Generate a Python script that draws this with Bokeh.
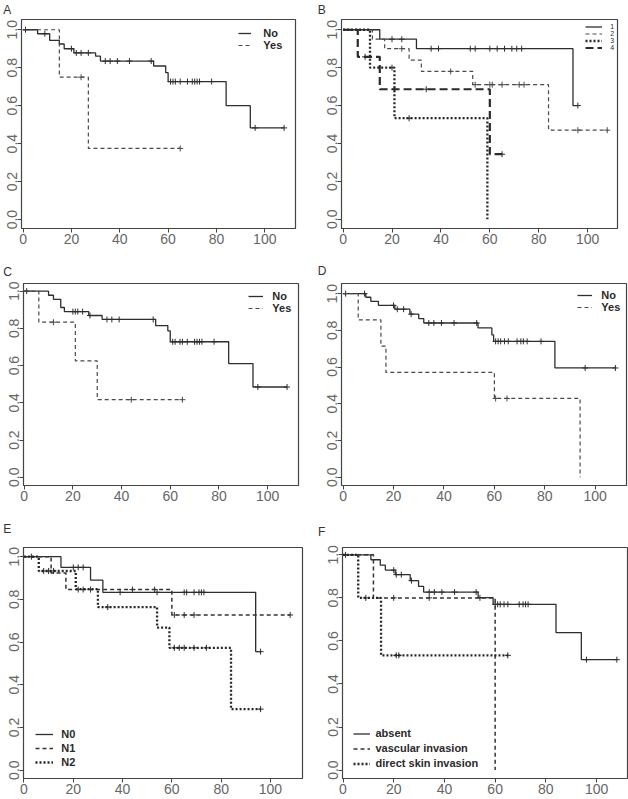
from bokeh.plotting import figure
from bokeh.layouts import column, row
from bokeh.models import (Range1d, FixedTicker, PrintfTickFormatter, Legend,
                          LegendItem, Title)
from bokeh.embed import file_html
from bokeh.resources import INLINE

# ---------------- data ----------------
x_ticks = [0, 20, 40, 60, 80, 100]
y_ticks = [0.0, 0.2, 0.4, 0.6, 0.8, 1.0]

# Panel A
a_labels = ["No", "Yes"]
a_no_times = [6, 11, 15, 17, 21, 30, 32, 54, 59, 60, 84, 94]
a_no_surv = [0.979, 0.944, 0.925, 0.900, 0.878, 0.861, 0.835, 0.809, 0.774, 0.727, 0.600, 0.483]
a_no_cens = [1, 9, 20, 22, 24, 27, 34, 36, 39, 44, 53, 61, 62, 63, 65, 68, 70, 71, 72, 73, 78, 96, 108]
a_yes_times = [15, 27]
a_yes_surv = [0.75, 0.375]
a_yes_cens = [24, 65]

# Panel B
b_labels = ["1", "2", "3", "4"]
b_g1_times = [15, 30, 94]
b_g1_surv = [0.95, 0.90, 0.60]
b_g1_cens = [20, 24, 36, 39, 52, 54, 60, 63, 66, 69, 71, 73, 96]
b_g2_times = [12, 17, 27, 32, 53, 84]
b_g2_surv = [0.95, 0.90, 0.84, 0.78, 0.71, 0.47]
b_g2_cens = [24, 44, 54, 60, 61, 65, 72, 74, 96, 108]
b_g3_times = [11, 21, 59]
b_g3_surv = [0.80, 0.533, 0.0]
b_g3_cens = [20, 27]
b_g4_times = [6, 15, 60]
b_g4_surv = [0.857, 0.686, 0.343]
b_g4_cens = [9, 21, 34, 65]

# Panel C
c_labels = ["No", "Yes"]
c_no_times = [10, 12, 15, 16.5, 26.5, 32, 54, 59, 60, 84, 94]
c_no_surv = [0.978, 0.956, 0.912, 0.890, 0.869, 0.848, 0.815, 0.787, 0.728, 0.611, 0.485]
c_no_cens = [1, 20, 21, 22, 24, 27, 34, 36, 39, 53, 61, 62, 64, 65, 67, 70, 71, 72, 73, 78, 96, 108]
c_yes_times = [6, 21, 30]
c_yes_surv = [0.833, 0.625, 0.417]
c_yes_cens = [12, 44, 65]

# Panel D
d_labels = ["No", "Yes"]
d_no_times = [9, 11, 14, 20.5, 26.5, 30, 32, 53.5, 59, 59.7, 84]
d_no_surv = [0.980, 0.958, 0.936, 0.915, 0.888, 0.864, 0.840, 0.813, 0.775, 0.740, 0.595]
d_no_cens = [1, 8.5, 20, 21.5, 24, 27, 34, 36, 39, 44, 53, 60.5, 61.5, 62.5, 64, 65.5,
             69, 70.5, 71.5, 73, 78.5, 96, 108]
d_yes_times = [6, 15, 17, 60, 94]
d_yes_surv = [0.857, 0.714, 0.571, 0.429, 0.0]
d_yes_cens = [60.5, 65]

# Panel E
e_labels = ["N0", "N1", "N2"]
e_n0_times = [15, 27, 32, 94]
e_n0_surv = [0.95, 0.89, 0.833, 0.555]
e_n0_cens = [20, 22, 24, 39, 54, 65, 66, 69, 71, 72, 73, 96]
e_n1_times = [11, 17, 60]
e_n1_surv = [0.923, 0.846, 0.727]
e_n1_cens = [22, 24, 27, 44, 53, 61, 65, 69, 108]
e_n2_times = [6, 21, 30, 54, 59, 84]
e_n2_surv = [0.933, 0.848, 0.764, 0.668, 0.573, 0.286]
e_n2_cens = [3, 8, 10, 12, 34, 61, 63, 65, 69, 74, 96]

# Panel F
f_labels = ["absent", "vascular invasion", "direct skin invasion"]
f_ab_times = [11, 14.7, 16.7, 20.6, 26.5, 29.8, 31.8, 53.3, 59.2, 84, 94]
f_ab_surv = [0.977, 0.952, 0.929, 0.908, 0.880, 0.853, 0.827, 0.801, 0.770, 0.639, 0.513]
f_ab_cens = [1, 20, 21, 23, 27, 34, 36, 39, 44, 52.5, 60, 61, 62, 63.5, 65,
             69.5, 71, 72, 73, 96, 108]
f_vi_times = [12, 60]
f_vi_surv = [0.80, 0.0]
f_vi_cens = [20, 34, 54]
f_ds_times = [6, 15]
f_ds_surv = [0.80, 0.533]
f_ds_cens = [9, 21, 22, 65]

# ---------------- styles / layout ----------------
FONT = "Liberation Sans"
LETTER_PX = 12
LETTER_H = 13.4  # approximate text box height of a 12px letter

SOLID = dict(line_color="#2e2e2e", line_width=1.3, line_dash="solid")
DASH = dict(line_color="#4a4a4a", line_width=1.2, line_dash="4 3")
DASH2 = dict(line_color="#333333", line_width=1.5, line_dash="4 3")
DOT = dict(line_color="#262626", line_width=2.3, line_dash="2 2")
LONG = dict(line_color="#2a2a2a", line_width=2.2, line_dash="8 4")


def surv_at(times, surv, t):
    s = 1.0
    for ti, si in zip(times, surv):
        if ti <= t:
            s = si
    return s


def make_panel(letter, box, cols, rows_, xr, yr, letter_pos, groups, legend):
    x0, x1, y0, y1 = box
    c0, c1 = cols
    r0, r1 = rows_
    w = c1 - c0
    h = r1 - r0
    mbl = round(x0 - c0)
    mbr = round(c1 - x1)
    mbt = round(y0 - r0)
    mbb = round(r1 - y1)
    p = figure(width=w, height=h, x_range=Range1d(*xr), y_range=Range1d(*yr),
               output_backend="svg", toolbar_location=None, title=None,
               min_border_left=mbl, min_border_right=mbr,
               min_border_top=mbt, min_border_bottom=mbb)
    p.xgrid.visible = False
    p.ygrid.visible = False
    p.outline_line_color = "#444444"
    p.outline_line_width = 1.2
    p.outline_line_alpha = 1.0
    p.background_fill_color = "white"
    p.border_fill_color = "white"
    p.xaxis.ticker = FixedTicker(ticks=x_ticks)
    p.yaxis.ticker = FixedTicker(ticks=y_ticks)
    p.yaxis.formatter = PrintfTickFormatter(format="%.1f")
    p.yaxis.major_label_orientation = "vertical"
    for ax in (p.xaxis[0], p.yaxis[0]):
        ax.major_tick_out = 4
        ax.major_tick_in = 0
        ax.minor_tick_out = 0
        ax.minor_tick_in = 0
        ax.axis_line_color = "#444444"
        ax.major_tick_line_color = "#444444"
        ax.major_label_text_font = FONT
        ax.major_label_text_font_size = "14px"
        ax.major_label_text_color = "#666666"
    p.xaxis[0].major_label_standoff = 1
    p.yaxis[0].major_label_standoff = 0

    renderers = []
    for times, surv, cens, sty in groups:
        end = max(list(times) + list(cens))
        xs = [0] + list(times)
        ys = [1.0] + list(surv)
        if end > xs[-1]:
            xs.append(end)
            ys.append(ys[-1])
        r = p.step(x=xs, y=ys, mode="after", **sty)
        renderers.append(r)
        cy = [surv_at(times, surv, c) for c in cens]
        p.scatter(x=cens, y=cy, marker="cross", size=6,
                  line_color=sty["line_color"], line_width=1.0)

    # panel letter as a left-aligned title placed above the frame
    lx, ly = letter_pos
    standoff = max(0, round(2 * (y0 - ly) - LETTER_H))
    p.add_layout(Title(text=letter, align="left", offset=lx - x0,
                       vertical_align="middle", standoff=standoff,
                       text_font=FONT, text_font_size=f"{LETTER_PX}px",
                       text_font_style="normal", text_color="#333333"), "above")

    # legend
    labels, left, first_c, row_h, gw, standoff_l, fsize, bold = legend
    n = len(labels)
    top = first_c - row_h / 2
    bottom = top + n * row_h
    items = [LegendItem(label=lab, renderers=[r]) for lab, r in zip(labels, renderers)]
    leg = Legend(items=items, location=(left - x0, y1 - bottom),
                 orientation="vertical", padding=0, margin=0, spacing=0,
                 glyph_width=round(gw), glyph_height=round(row_h),
                 label_height=round(row_h), label_standoff=round(standoff_l),
                 label_text_font=FONT, label_text_font_size=fsize,
                 label_text_font_style="bold" if bold else "normal",
                 label_text_color="#2a2a2a", label_text_baseline="middle",
                 border_line_color=None, background_fill_alpha=0)
    p.add_layout(leg)
    return p


R1 = (0, 255)
R2 = (255, 510)
R3 = (510, 799)
C1 = (0, 314)
C2 = (314, 628)

pA = make_panel("A", (20.7, 295, 17.3, 228.3), C1, R1,
                (-0.66, 112.7), (-0.047, 1.054), (2.5, 9),
                [(a_no_times, a_no_surv, a_no_cens, SOLID),
                 (a_yes_times, a_yes_surv, a_yes_cens, DASH)],
                (a_labels, 238, 33, 12, 13, 12, "11px", True))
pB = make_panel("B", (340.7, 617.3, 17.3, 228.3), C2, R1,
                (-0.65, 112.2), (-0.049, 1.054), (317, 9),
                [(b_g1_times, b_g1_surv, b_g1_cens, SOLID),
                 (b_g2_times, b_g2_surv, b_g2_cens, DASH),
                 (b_g3_times, b_g3_surv, b_g3_cens, DOT),
                 (b_g4_times, b_g4_surv, b_g4_cens, LONG)],
                (b_labels, 585, 27, 6.8, 17, 8, "7px", False))
pC = make_panel("C", (22.7, 297.7, 282.3, 485), C1, R2,
                (-0.3, 112.7), (-0.044, 1.041), (2.5, 272),
                [(c_no_times, c_no_surv, c_no_cens, SOLID),
                 (c_yes_times, c_yes_surv, c_yes_cens, DASH)],
                (c_labels, 248, 296, 12, 15, 9, "11px", True))
pD = make_panel("D", (340.7, 626.3, 283.3, 485), C2, R2,
                (-0.63, 112.4), (-0.045, 1.055), (317, 272),
                [(d_no_times, d_no_surv, d_no_cens, SOLID),
                 (d_yes_times, d_yes_surv, d_yes_cens, DASH)],
                (d_labels, 577, 296, 11.5, 15, 9, "11px", True))
pE = make_panel("E", (22.7, 301.7, 545, 778), C1, R3,
                (-0.2, 113.0), (-0.039, 1.043), (2.5, 528),
                [(e_n0_times, e_n0_surv, e_n0_cens, SOLID),
                 (e_n1_times, e_n1_surv, e_n1_cens, DASH2),
                 (e_n2_times, e_n2_surv, e_n2_cens, DOT)],
                (e_labels, 35, 735, 13.5, 18, 8, "11px", True))
pF = make_panel("F", (341.5, 626.7, 543.3, 778), C2, R3,
                (-0.2, 112.2), (-0.039, 1.034), (317, 529),
                [(f_ab_times, f_ab_surv, f_ab_cens, SOLID),
                 (f_vi_times, f_vi_surv, f_vi_cens, DASH2),
                 (f_ds_times, f_ds_surv, f_ds_cens, DOT)],
                (f_labels, 352, 733, 15, 17, 6, "11px", True))

layout = column(row(pA, pB), row(pC, pD), row(pE, pF))

open("out.html", "w").write(file_html(layout, INLINE))
